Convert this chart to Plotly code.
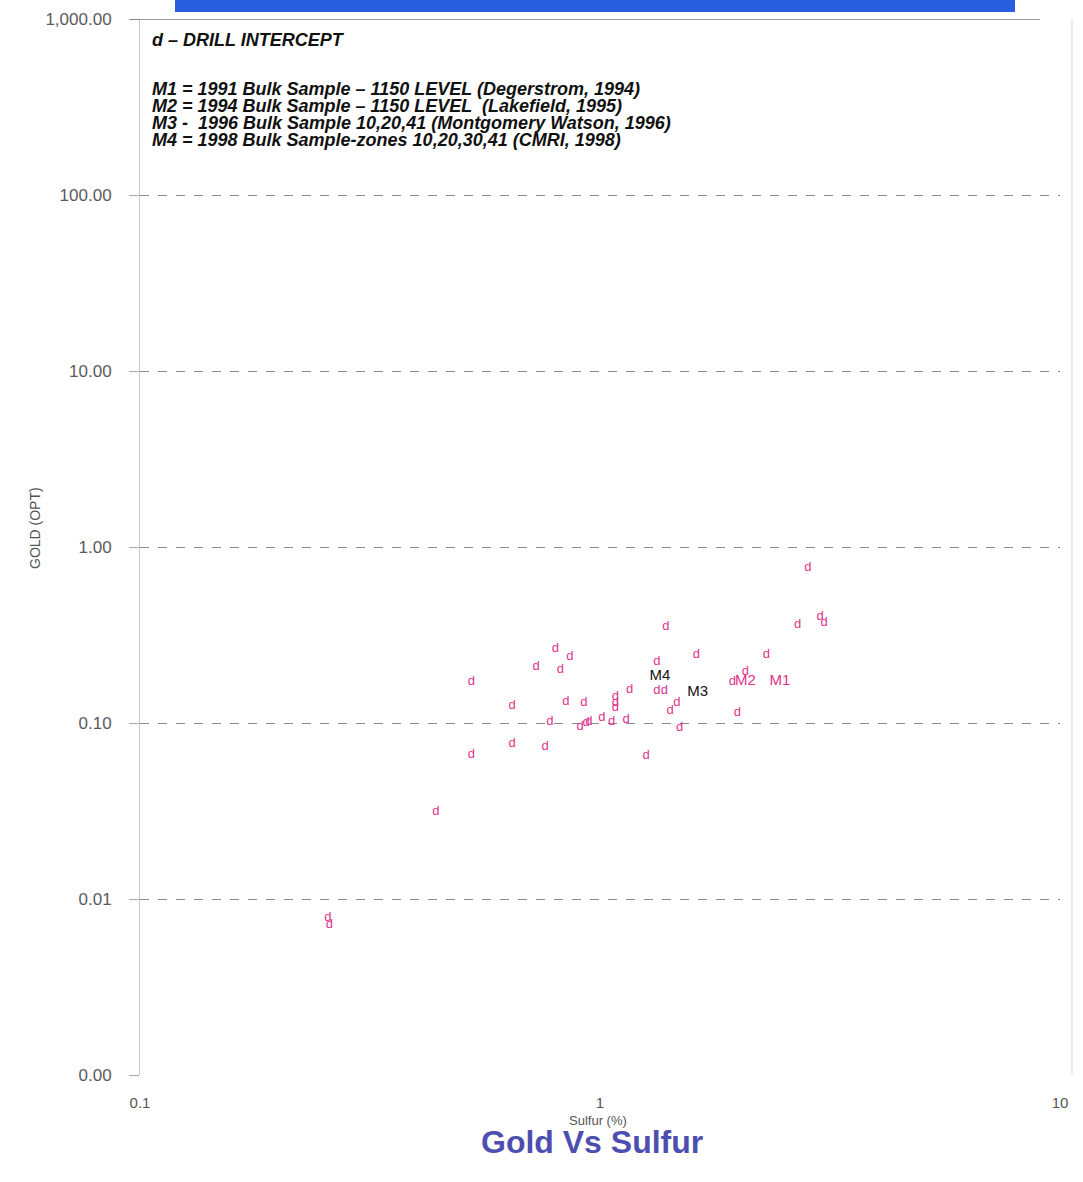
import plotly.graph_objects as go

# Drill intercepts (Sulfur %, Gold opt)
sulfur = [2.83, 3.01, 3.07, 2.69, 2.30, 1.39, 0.80, 0.86, 0.726, 0.82,
          0.525, 1.33, 1.62, 2.07, 1.94, 1.99, 1.33, 1.38, 1.47, 1.42,
          1.49, 1.26, 1.16, 1.08, 1.08, 1.08, 0.843, 0.923, 0.644, 0.778,
          0.905, 0.933, 0.946, 1.01, 1.06, 1.14, 0.644, 0.76, 0.525, 0.44,
          0.256, 0.258]
gold = [0.76, 0.40, 0.37, 0.36, 0.243, 0.351, 0.263, 0.237, 0.208, 0.20,
        0.171, 0.222, 0.243, 0.195, 0.171, 0.114, 0.152, 0.152, 0.13, 0.117,
        0.094, 0.065, 0.154, 0.141, 0.130, 0.122, 0.132, 0.13, 0.125, 0.101,
        0.095, 0.10, 0.101, 0.107, 0.101, 0.105, 0.076, 0.073, 0.0658, 0.0312,
        0.0078, 0.0071]

# Bulk samples
bulk_labels = ["M1", "M2", "M3", "M4"]
bulk_sulfur = [2.46, 2.07, 1.63, 1.35]
bulk_gold = [0.173, 0.173, 0.150, 0.185]
bulk_colors = ["#e0338c", "#e0338c", "#111111", "#111111"]

y_tickvals = [1000, 100, 10, 1, 0.1, 0.01, 0.001]
y_ticktext = ["1,000.00", "100.00", "10.00", "1.00", "0.10", "0.01", "0.00"]
x_tickvals = [0.1, 1, 10]
x_ticktext = ["0.1", "1", "10"]

notes = [
    "d – DRILL INTERCEPT",
    "M1 = 1991 Bulk Sample – 1150 LEVEL (Degerstrom, 1994)",
    "M2 = 1994 Bulk Sample – 1150 LEVEL  (Lakefield, 1995)",
    "M3 -  1996 Bulk Sample 10,20,41 (Montgomery Watson, 1996)",
    "M4 = 1998 Bulk Sample-zones 10,20,30,41 (CMRI, 1998)",
]

W, H = 1083, 1182
L, R, T, B = 140, 23, 19, 107
pw, ph = W - L - R, H - T - B


def px(x):  # page pixel -> paper x
    return (x - L) / pw


def py(y):  # page pixel -> paper y
    return (H - B - y) / ph


fig = go.Figure()
fig.add_trace(go.Scatter(
    x=sulfur, y=gold, mode="text", text=["d"] * len(sulfur),
    textposition="middle center",
    textfont=dict(family="Liberation Sans, Arial", size=13, color="#e0338c"),
    showlegend=False, hoverinfo="x+y"))
fig.add_trace(go.Scatter(
    x=bulk_sulfur, y=bulk_gold, mode="text", text=bulk_labels,
    textposition="middle center",
    textfont=dict(family="Liberation Sans, Arial", size=15, color=bulk_colors),
    showlegend=False, hoverinfo="x+y"))

fig.update_layout(
    width=W, height=H,
    margin=dict(l=L, r=R, t=T, b=B),
    paper_bgcolor="white", plot_bgcolor="white",
    font=dict(family="Liberation Sans, Arial", color="#555555"),
    xaxis=dict(type="log", range=[-1, 1], tickvals=x_tickvals, ticktext=x_ticktext,
               showgrid=False, zeroline=False, showline=False, ticks="",
               automargin=False,
               ticklabelstandoff=17, tickfont=dict(size=15, color="#555555")),
    yaxis=dict(type="log", range=[-3, 3], tickvals=y_tickvals, ticktext=y_ticktext,
               showgrid=True, gridcolor="#8a8a8a", griddash="dash", gridwidth=1,
               zeroline=False, showline=True, linecolor="#c8c8c8", linewidth=1,
               ticks="outside", ticklen=10, tickcolor="#aaaaaa", automargin=False,
               ticklabelstandoff=14, tickfont=dict(size=17, color="#5a5a5a")),
)

# top banner (cropped blue header)
fig.add_shape(type="rect", xref="paper", yref="paper",
              x0=px(175), x1=px(1015), y0=py(12), y1=py(0),
              fillcolor="#2a5ee0", line=dict(width=0), layer="above")
# solid top border line at 1,000
fig.add_shape(type="line", xref="paper", yref="y",
              x0=px(130), x1=px(1040), y0=1000, y1=1000,
              line=dict(color="#777777", width=1.5))
# right edge faint line
fig.add_shape(type="line", xref="paper", yref="paper",
              x0=px(1072), x1=px(1072), y0=py(1075), y1=py(19),
              line=dict(color="#d8d8d8", width=1))

note_y = [40, 89, 106, 123, 140]
for txt, yy in zip(notes, note_y):
    fig.add_annotation(text="<b><i>" + txt + "</i></b>", xref="paper", yref="paper",
                       x=px(150), y=py(yy), xanchor="left", yanchor="middle",
                       showarrow=False,
                       font=dict(family="Liberation Sans, Arial", size=18, color="#111111"))

fig.add_annotation(text="Sulfur (%)", xref="paper", yref="paper",
                   x=px(598), y=py(1120), xanchor="center", yanchor="middle",
                   showarrow=False, font=dict(size=13, color="#555555"))
fig.add_annotation(text="<b>Gold Vs Sulfur</b>", xref="paper", yref="paper",
                   x=px(592), y=py(1142), xanchor="center", yanchor="middle",
                   showarrow=False, font=dict(size=32, color="#4d4fb0"))
fig.add_annotation(text="GOLD (OPT)", xref="paper", yref="paper", textangle=-90,
                   x=px(35), y=py(528), xanchor="center", yanchor="middle",
                   showarrow=False, font=dict(size=14, color="#555555"))

fig.write_html("out.html", config={"displayModeBar": False},
               post_script="document.body.style.margin='0';")
